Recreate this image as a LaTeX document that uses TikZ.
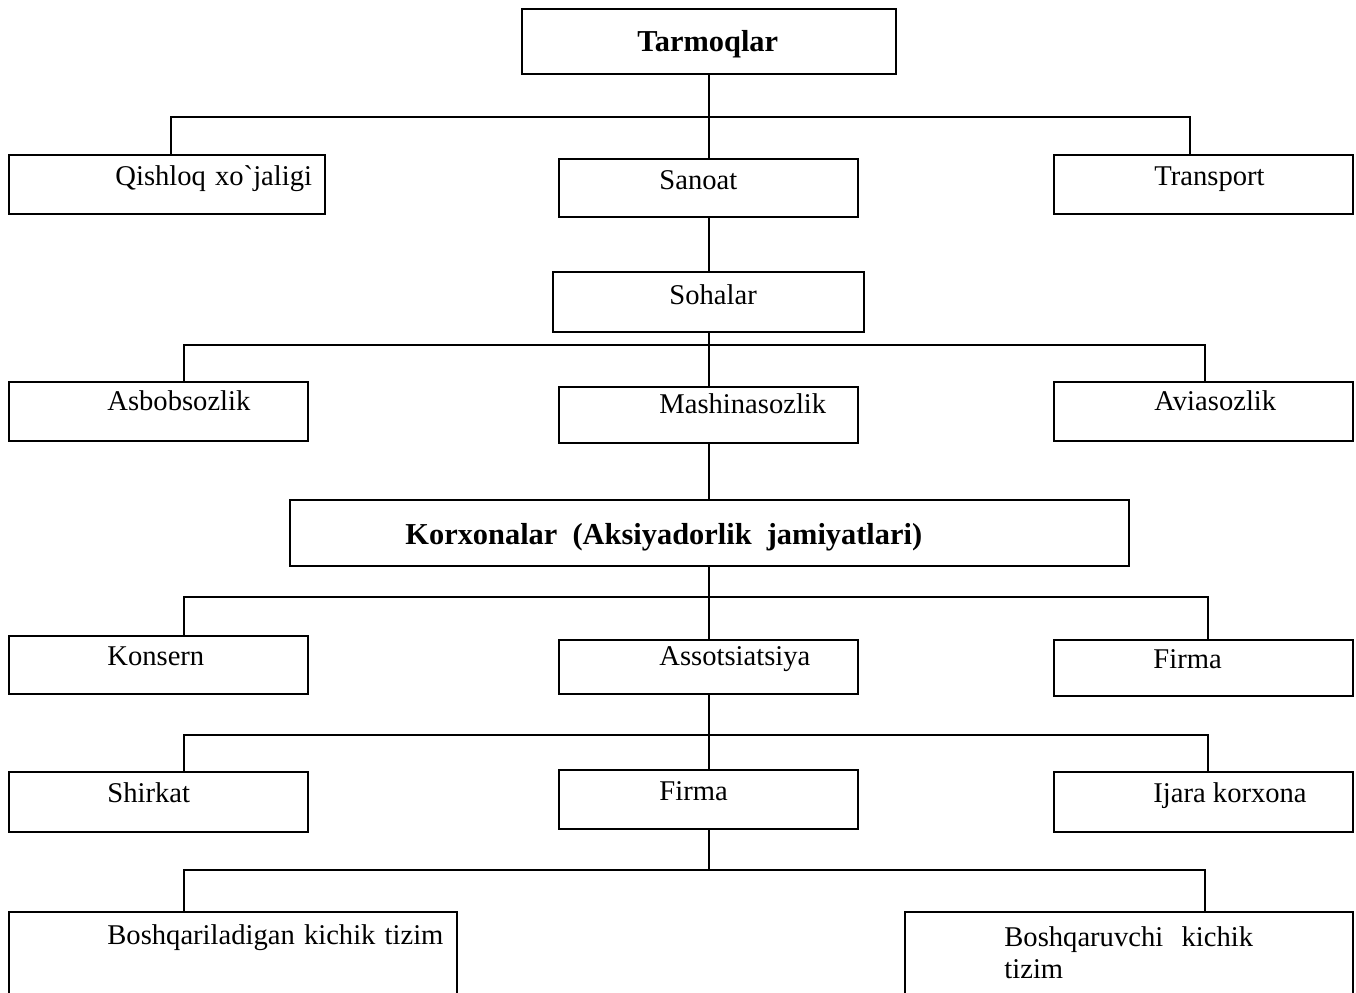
\documentclass[tikz,border=0pt]{standalone}
\usepackage{fontspec}
\setmainfont{Liberation Serif}[Ligatures=TeXOff]
\usetikzlibrary{fit}
\newcommand{\gapw}{\hspace{0.32em}}
\begin{document}
\begin{tikzpicture}[x=0.5pt,y=-0.5pt,
  box/.style={draw,line width=1pt,inner sep=0pt,rectangle},
  txt/.style={anchor=base west,inner sep=0pt,font=\fontsize{14.3}{17}\selectfont},
  btxt/.style={txt,font=\fontsize{15.2}{18}\selectfont\bfseries},
  conn/.style={line width=1pt}]
\useasboundingbox (0,0) rectangle (1356,992);
\clip (0,0) rectangle (1356,992);
% boxes
\node[box,fit={(522,9)(896,74)}] (tar) {};
\node[box,fit={(9,155)(325,214)}] (qis) {};
\node[box,fit={(559,159)(858,217)}] (san) {};
\node[box,fit={(1054,155)(1353,214)}] (tra) {};
\node[box,fit={(553,272)(864,332)}] (soh) {};
\node[box,fit={(9,382)(308,441)}] (asb) {};
\node[box,fit={(559,387)(858,443)}] (mas) {};
\node[box,fit={(1054,382)(1353,441)}] (avi) {};
\node[box,fit={(290,500)(1129,566)}] (kor) {};
\node[box,fit={(9,636)(308,694)}] (kon) {};
\node[box,fit={(559,640)(858,694)}] (ass) {};
\node[box,fit={(1054,640)(1353,696)}] (fir1) {};
\node[box,fit={(9,772)(308,832)}] (shi) {};
\node[box,fit={(559,770)(858,829)}] (fir2) {};
\node[box,fit={(1054,772)(1353,832)}] (ija) {};
\node[box,fit={(9,912)(457,1010)}] (bsq) {};
\node[box,fit={(905,912)(1353,1010)}] (bsv) {};
% texts
\node[btxt] (ttar) at (637,51) {Tarmoqlar};
\node[txt] (tqis) at (115,185) {Qishloq\gapw xo`jaligi};
\node[txt] (tsan) at (659,189) {Sanoat};
\node[txt] (ttra) at (1154,185) {Transport};
\node[txt] (tsoh) at (669,304) {Sohalar};
\node[txt] (tasb) at (107,410) {Asbobsozlik};
\node[txt] (tmas) at (659,413) {Mashinasozlik};
\node[txt] (tavi) at (1154,410) {Aviasozlik};
\node[btxt] (tkor) at (405,544) {Korxonalar\ \ (Aksiyadorlik\ \ jamiyatlari)};
\node[txt] (tkon) at (107,665) {Konsern};
\node[txt] (tass) at (659,665) {Assotsiatsiya};
\node[txt] (tfir1) at (1153,668) {Firma};
\node[txt] (tshi) at (107,802) {Shirkat};
\node[txt] (tfir2) at (659,800) {Firma};
\node[txt] (tija) at (1153,802) {Ijara korxona};
\node[txt] (tbsq) at (107,944) {Boshqariladigan\gapw kichik\gapw tizim};
\node[txt] (tbsv1) at (1004,946) {Boshqaruvchi\gapw\gapw kichik};
\node[txt] (tbsv2) at (1004,978) {tizim};
% connectors level 1
\coordinate (b1l) at (171,117);
\coordinate (b1r) at (1190,117);
\draw[conn] (tar.south) -- (tar.south |- san.north);
\draw[conn] (b1l |- qis.north) -- (b1l) -- (b1r) -- (b1r |- tra.north);
% level 2
\draw[conn] (san.south -| tar.south) -- (tar.south |- soh.north);
\coordinate (b2l) at (184,345);
\coordinate (b2r) at (1205,345);
\draw[conn] (soh.south -| tar.south) -- (tar.south |- mas.north);
\draw[conn] (b2l |- asb.north) -- (b2l) -- (b2r) -- (b2r |- avi.north);
% level 3
\draw[conn] (mas.south -| tar.south) -- (tar.south |- kor.north);
\coordinate (b3l) at (184,597);
\coordinate (b3r) at (1208,597);
\draw[conn] (kor.south -| tar.south) -- (tar.south |- ass.north);
\draw[conn] (b3l |- kon.north) -- (b3l) -- (b3r) -- (b3r |- fir1.north);
% level 4
\coordinate (b4l) at (184,735);
\coordinate (b4r) at (1208,735);
\draw[conn] (ass.south -| tar.south) -- (tar.south |- fir2.north);
\draw[conn] (b4l |- shi.north) -- (b4l) -- (b4r) -- (b4r |- ija.north);
% level 5
\coordinate (b5l) at (184,870);
\coordinate (b5r) at (1205,870);
\coordinate (b5m) at (709,870);
\draw[conn] (fir2.south -| tar.south) -- (b5m);
\draw[conn] (b5l |- bsq.north) -- (b5l) -- (b5r) -- (b5r |- bsv.north);
\end{tikzpicture}
\end{document}
